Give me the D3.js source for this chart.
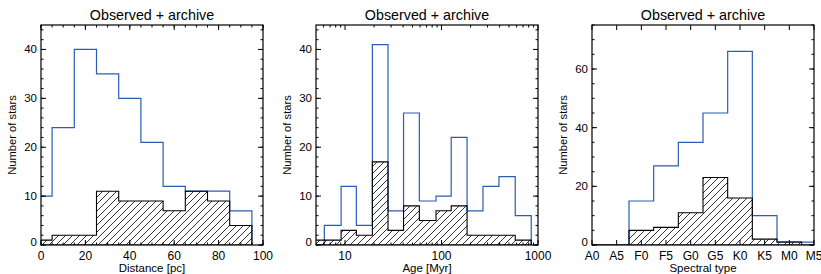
<!DOCTYPE html>
<html>
<head>
<meta charset="utf-8">
<script src="https://cdn.jsdelivr.net/npm/d3@7"></script>
<style>
  body { margin: 0; background: #fff; }
  svg { display: block; }
  text { font-family: "Liberation Sans", Arial, Helvetica, sans-serif; fill: #000; }
</style>
</head>
<body>
<div id="chart"></div>
<script>
// distance histogram (bins of 10 pc)
const distEdges = [-5, 5, 15, 25, 35, 45, 55, 65, 75, 85, 95];
const distAll = [10, 24, 40, 35, 30, 21, 12, 11, 11, 7];
const distObs = [1, 2, 2, 11, 9, 9, 7, 11, 9, 4];

// age histogram (log bins, Myr)
const ageEdges = [4.2, 6.1, 9.1, 13.1, 19.2, 27.9, 40.4, 58.9, 87.7, 126, 184, 269, 394, 581, 851];
const ageAll = [0, 4, 12, 4, 41, 7, 27, 9, 10, 22, 7, 12, 14, 6];
const ageObs = [1, 1, 3, 2, 17, 3, 8, 5, 7, 8, 2, 2, 2, 1];

// spectral type histogram (one bin per labelled subtype)
const sptLabels = ["A0", "A5", "F0", "F5", "G0", "G5", "K0", "K5", "M0", "M5"];
const sptAll = [0, 0, 15, 27, 35, 45, 66, 10, 1, 1];
const sptObs = [0, 0, 5, 6, 11, 23, 16, 2, 1, 0];

const width = 821;
const height = 274;
const plotTop = 25, plotBottom = 245;
const blue = "#2b5cb8";

const svg = d3.select("#chart")
  .append("svg")
  .attr("width", width)
  .attr("height", height);

const defs = svg.append("defs");
defs.append("pattern")
  .attr("id", "hatch")
  .attr("patternUnits", "userSpaceOnUse")
  .attr("width", 7)
  .attr("height", 7)
  .append("path")
  .attr("d", "M-1,1 L1,-1 M0,7 L7,0 M6,8 L8,6")
  .attr("stroke", "#000")
  .attr("stroke-width", 0.8);

const sptEdges = sptLabels.map((d, i) => i * 5 - 2.5).concat([47.5]);

const panels = [
  {
    left: 41, right: 263,
    x: d3.scaleLinear().domain([0, 100]),
    xMajor: d3.range(0, 101, 20), xMinor: d3.range(0, 101, 5),
    xFormat: d => d,
    yMax: 45, yMajor: d3.range(0, 41, 10), yMinor: d3.range(0, 46, 2),
    edges: distEdges, all: distAll, obs: distObs,
    xTitle: "Distance [pc]"
  },
  {
    left: 316, right: 538,
    x: d3.scaleLog().domain([5, 1000]),
    xMajor: [10, 100, 1000],
    xMinor: [6, 7, 8, 9, 20, 30, 40, 50, 60, 70, 80, 90, 200, 300, 400, 500, 600, 700, 800, 900],
    xFormat: d => d,
    yMax: 45, yMajor: d3.range(0, 41, 10), yMinor: d3.range(0, 46, 2),
    edges: ageEdges, all: ageAll, obs: ageObs,
    xTitle: "Age [Myr]"
  },
  {
    left: 592, right: 814,
    x: d3.scaleLinear().domain([0, 45]),
    xMajor: d3.range(0, 46, 5), xMinor: [],
    xFormat: d => sptLabels[d / 5],
    yMax: 75, yMajor: d3.range(0, 61, 20), yMinor: d3.range(0, 76, 5),
    edges: sptEdges, all: sptAll, obs: sptObs,
    xTitle: "Spectral type"
  }
];

function histPoints(edges, vals) {
  const pts = [[edges[0], 0]];
  vals.forEach((v, i) => {
    pts.push([edges[i], v]);
    pts.push([edges[i + 1], v]);
  });
  pts.push([edges[edges.length - 1], 0]);
  return pts;
}

panels.forEach((p, k) => {
  p.x.range([p.left, p.right]);
  const y = d3.scaleLinear().domain([0, p.yMax]).range([plotBottom, plotTop]);
  const line = d3.line().x(d => p.x(d[0])).y(d => y(d[1]));

  const g = svg.append("g");

  defs.append("clipPath")
    .attr("id", "clip" + k)
    .append("rect")
    .attr("x", p.left).attr("y", plotTop)
    .attr("width", p.right - p.left).attr("height", plotBottom - plotTop);

  const plot = g.append("g").attr("clip-path", `url(#clip${k})`);

  // all stars (blue outline)
  plot.append("path")
    .attr("d", line(histPoints(p.edges, p.all)))
    .attr("fill", "none")
    .attr("stroke", blue)
    .attr("stroke-width", 1.2);

  // observed (hatched)
  plot.append("path")
    .attr("d", line(histPoints(p.edges, p.obs)) + "Z")
    .attr("fill", "url(#hatch)")
    .attr("stroke", "#000")
    .attr("stroke-width", 1.1);

  // frame
  g.append("rect")
    .attr("x", p.left).attr("y", plotTop)
    .attr("width", p.right - p.left).attr("height", plotBottom - plotTop)
    .attr("fill", "none")
    .attr("stroke", "#000")
    .attr("stroke-width", 1.2);

  // ticks on all four sides, pointing inwards
  const ticks = g.append("g").attr("stroke", "#000").attr("stroke-width", 1);
  const xt = p.xMajor.map(v => ({ v, len: 5 })).concat(p.xMinor.map(v => ({ v, len: 2.5 })));
  xt.forEach(t => {
    const xx = p.x(t.v);
    ticks.append("line").attr("x1", xx).attr("x2", xx).attr("y1", plotBottom).attr("y2", plotBottom - t.len);
    ticks.append("line").attr("x1", xx).attr("x2", xx).attr("y1", plotTop).attr("y2", plotTop + t.len);
  });
  const yt = p.yMajor.map(v => ({ v, len: 5 })).concat(p.yMinor.map(v => ({ v, len: 2.5 })));
  yt.forEach(t => {
    const yy = y(t.v);
    ticks.append("line").attr("x1", p.left).attr("x2", p.left + t.len).attr("y1", yy).attr("y2", yy);
    ticks.append("line").attr("x1", p.right).attr("x2", p.right - t.len).attr("y1", yy).attr("y2", yy);
  });

  // tick labels
  g.selectAll(".xl")
    .data(p.xMajor)
    .enter()
    .append("text")
    .attr("x", d => p.x(d))
    .attr("y", 260)
    .attr("text-anchor", "middle")
    .attr("font-size", 12)
    .text(p.xFormat);

  g.selectAll(".yl")
    .data(p.yMajor)
    .enter()
    .append("text")
    .attr("x", p.left - 4)
    .attr("y", d => y(d) + 4)
    .attr("dy", d => d === 0 ? -3 : 0)
    .attr("text-anchor", "end")
    .attr("font-size", 11.5)
    .text(d => d);

  // titles
  g.append("text")
    .attr("x", (p.left + p.right) / 2)
    .attr("y", 20)
    .attr("text-anchor", "middle")
    .attr("font-size", 14.3)
    .text("Observed + archive");

  g.append("text")
    .attr("x", (p.left + p.right) / 2)
    .attr("y", 272)
    .attr("text-anchor", "middle")
    .attr("font-size", 11.5)
    .text(p.xTitle);

  g.append("text")
    .attr("transform", `translate(${p.left - 25},${(plotTop + plotBottom) / 2}) rotate(-90)`)
    .attr("text-anchor", "middle")
    .attr("font-size", 11.2)
    .text("Number of stars");
});
</script>
</body>
</html>
